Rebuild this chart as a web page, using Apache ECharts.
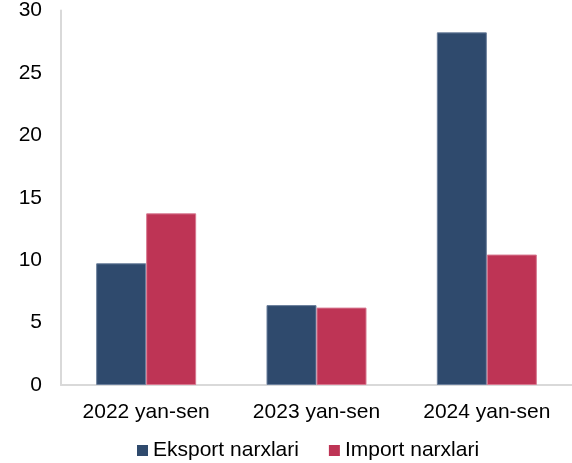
<!DOCTYPE html>
<html>
<head>
<meta charset="utf-8">
<script src="https://cdn.jsdelivr.net/npm/echarts@6/dist/echarts.min.js"></script>
<style>
  html, body { margin: 0; padding: 0; background: #fff; }
  #chart { width: 572px; height: 463px; }
</style>
</head>
<body>
<div id="chart"></div>
<script>
// categories and values
var categories = ['2022 yan-sen', '2023 yan-sen', '2024 yan-sen'];
var eksport = [9.75, 6.4, 28.25];
var importVals = [13.75, 6.2, 10.45];
var seriesNames = ['Eksport narxlari', 'Import narxlari'];

var chart = echarts.init(document.getElementById('chart'));

var font = '"Liberation Sans", Arial, sans-serif';

var option = {
    animation: false,
    grid: {
        left: 61,
        top: 10,
        width: 516,
        height: 375,
        containLabel: false
    },
    legend: {
        data: seriesNames,
        left: 132,
        top: 435,
        padding: 5,
        itemWidth: 11,
        itemHeight: 11,
        itemGap: 30,
        icon: 'rect',
        itemStyle: { borderWidth: 0 },
        textStyle: { fontFamily: font, fontSize: 21, color: '#000' }
    },
    xAxis: {
        type: 'category',
        data: categories,
        axisLine: { lineStyle: { color: '#d9d9d9', width: 2 } },
        axisTick: { show: false },
        axisLabel: { fontFamily: font, fontSize: 21, color: '#000', margin: 17 }
    },
    yAxis: {
        type: 'value',
        min: 0,
        max: 30,
        interval: 5,
        splitLine: { show: false },
        axisLine: { show: true, lineStyle: { color: '#d9d9d9', width: 2 } },
        axisTick: { show: false },
        axisLabel: { fontFamily: font, fontSize: 21, color: '#000', margin: 19 }
    },
    series: [{
        name: seriesNames[0],
        type: 'bar',
        data: eksport,
        barWidth: 50,
        barGap: '0%',
        itemStyle: { color: '#2f4a6d', borderColor: '#6b7f9c', borderWidth: 1 }
    }, {
        name: seriesNames[1],
        type: 'bar',
        data: importVals,
        barWidth: 50,
        itemStyle: { color: '#be3455', borderColor: '#d77890', borderWidth: 1 }
    }]
};

chart.setOption(option);
</script>
</body>
</html>
